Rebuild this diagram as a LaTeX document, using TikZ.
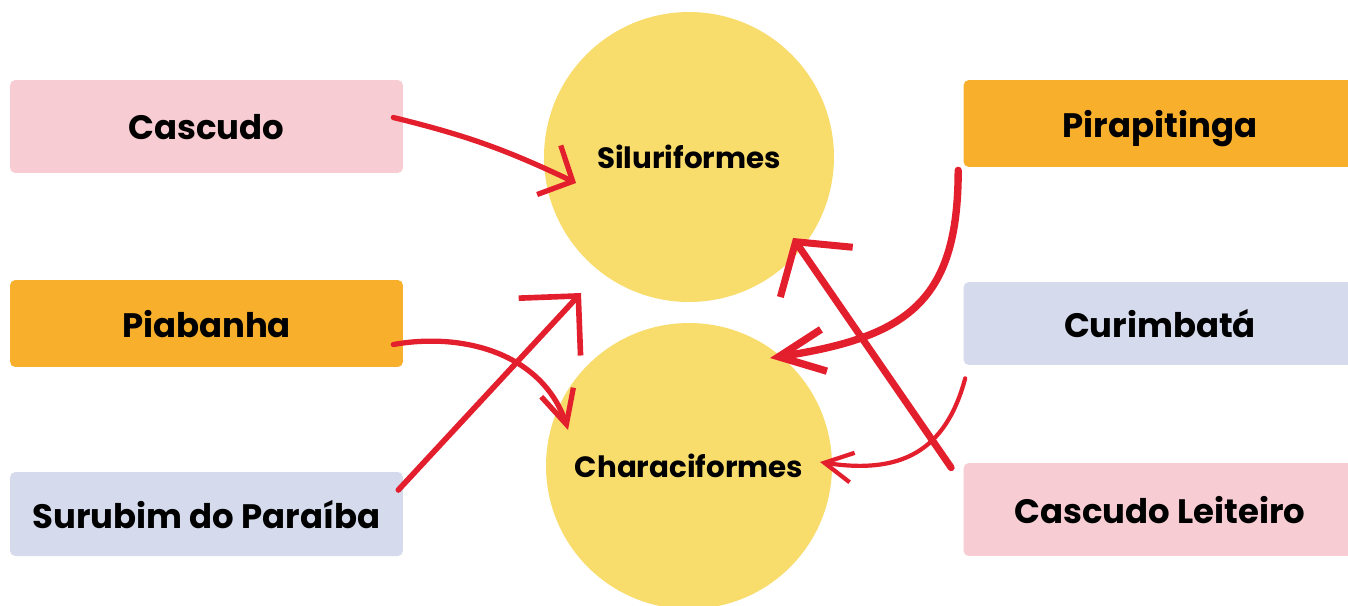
\documentclass[tikz,border=0pt]{standalone}
\usepackage{fontspec}
\setmainfont{Poppins}
\usetikzlibrary{arrows.meta,bending}
\definecolor{boxpink}{HTML}{F7CDD3}
\definecolor{boxorange}{HTML}{F8B02C}
\definecolor{boxlilac}{HTML}{D5DAEC}
\definecolor{orderyellow}{HTML}{F8DC6C}
\definecolor{linkred}{HTML}{E31E2D}
\tikzset{
  species/.style={
    rectangle,
    rounded corners=3pt,
    minimum width=7.86cm,
    inner sep=0pt,
    text depth=0pt,
    font=\fontsize{19.3}{23}\selectfont\bfseries
  },
  order/.style={
    circle,
    fill=orderyellow,
    minimum size=5.8cm,
    inner sep=0pt,
    font=\fontsize{16.7}{19}\selectfont\bfseries
  },
  link/.style={
    draw=linkred,
    line width=3pt,
    line cap=round,
    line join=round
  }
}

\begin{document}
\begin{tikzpicture}[x=0.02cm, y=0.02cm]
  \useasboundingbox (0,0) rectangle (1348,-605);
  % the two orders
  \node[order] (silu) at (689,-157) {Siluriformes};
  \node[order, minimum size=5.72cm] (chara) at (689,-466) {Characiformes};
  % the species
  \node[species, fill=boxpink, minimum height=1.86cm] (casc) at (206.5,-126.5) {Cascudo};
  \node[species, fill=boxorange, minimum height=1.74cm] (piab) at (206.5,-323.5) {Piabanha};
  \node[species, fill=boxlilac, minimum height=1.68cm] (surub) at (206.5,-514) {Surubim do Paraíba};
  \node[species, fill=boxorange, minimum height=1.74cm] (pirap) at (1160,-123.5) {Pirapitinga};
  \node[species, fill=boxlilac, minimum height=1.66cm] (curim) at (1160,-323.5) {Curimbatá};
  \node[species, fill=boxpink, minimum height=1.86cm] (leit) at (1160,-509.5) {Cascudo Leiteiro};
  % links
  \draw[link, -{Straight Barb[length=15pt,width=31pt]}]
    ([shift={(-10,9)}]casc.east) to[bend left=6] ([shift={(-113,-26)}]silu.center);
  \draw[link, -{Straight Barb[length=19pt,width=19pt]}]
    ([shift={(-10,-21)}]piab.east) to[out=10, in=105] ([shift={(-121,36)}]chara.center);
  \draw[link, line width=3.2pt, -{Straight Barb[length=24pt,width=48pt]}]
    ([shift={(-5,24)}]surub.east) -- ([shift={(-108,-136)}]silu.center);
  \draw[link, line width=4.2pt, -{Straight Barb[length=26pt,width=24pt]}]
    ([shift={(-5,-3)}]pirap.south west) to[out=-90, in=8, looseness=1.3] ([shift={(81,108)}]chara.center);
  \draw[link, line width=4pt, -{Straight Barb[length=21pt,width=50pt]}]
    ([shift={(-12,-5)}]leit.north west) -- ([shift={(104,-81)}]silu.center);
  \draw[link, line width=2.4pt, -{Straight Barb[length=16pt,width=17pt]}]
    ([shift={(2,-13)}]curim.south west) to[out=-105, in=-10, looseness=1.2] ([shift={(131,4)}]chara.center);
\end{tikzpicture}
\end{document}
